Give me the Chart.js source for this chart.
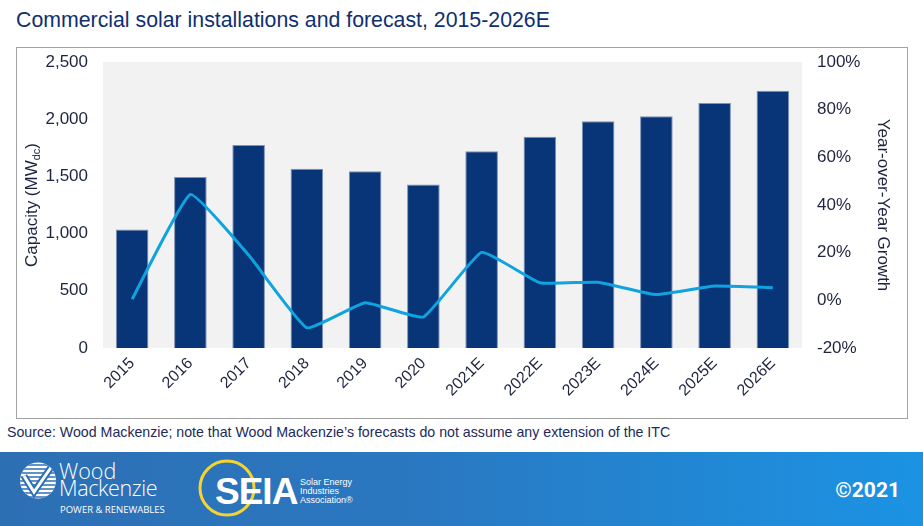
<!DOCTYPE html>
<html>
<head>
<meta charset="utf-8">
<script src="https://cdn.jsdelivr.net/npm/chart.js@4/dist/chart.umd.min.js"></script>
<style>
  html, body { margin: 0; padding: 0; background: #fff; }
  body { width: 923px; height: 526px; position: relative; overflow: hidden; font-family: 'Liberation Sans', Arial, sans-serif; }
  #title { position: absolute; left: 16px; top: 10px; font-size: 21.3px; line-height: 21px; color: #0f2f70; white-space: nowrap; }
  #frame { position: absolute; left: 16px; top: 47px; width: 892px; height: 372px; box-sizing: border-box; border: 1px solid #a3a3a3; }
  #wrap { position: absolute; left: 17px; top: 48px; width: 890px; height: 370px; }
  #source { position: absolute; left: 7px; top: 425px; font-size: 14.2px; line-height: 14px; color: #1c2a5c; white-space: nowrap; }
  #banner { position: absolute; left: 0; top: 452px; width: 923px; height: 74px; background: linear-gradient(to right, #2d6fb3 0%, #2a78c1 45%, #1b93e3 100%); }
  #copy { position: absolute; right: 23px; top: 478px; font-family: Roboto, 'Liberation Sans', sans-serif; font-weight: 700; font-size: 21px; color: #fff; }
  .wm { position: absolute; color: #fff; font-family: 'Open Sans', 'Liberation Sans', sans-serif; font-weight: 300; white-space: nowrap; }
  .seia-small { position: absolute; color: #fff; font-family: 'Liberation Sans', Arial, sans-serif; font-size: 9px; line-height: 9px; white-space: nowrap; }
</style>
</head>
<body>
<div id="title">Commercial solar installations and forecast, 2015-2026E</div>
<div id="frame"></div>
<div id="wrap"><canvas id="c" width="890" height="370"></canvas></div>
<div id="source">Source: Wood Mackenzie; note that Wood Mackenzie’s forecasts do not assume any extension of the ITC</div>
<div id="banner"></div>
<svg style="position:absolute;left:0;top:452px" width="360" height="74">
  <defs>
    <clipPath id="wmclip"><circle cx="38" cy="28.5" r="18"/></clipPath>
  </defs>
  <g clip-path="url(#wmclip)">
    <rect x="18" y="8" width="40" height="42" fill="#ffffff"/>
    <g stroke="#2d6fb3" stroke-width="1.3">
      <line x1="18" y1="13" x2="58" y2="13"/>
      <line x1="18" y1="17" x2="58" y2="17"/>
      <line x1="18" y1="21" x2="58" y2="21"/>
      <line x1="18" y1="25" x2="58" y2="25"/>
      <line x1="18" y1="29" x2="58" y2="29"/>
      <line x1="18" y1="33" x2="58" y2="33"/>
      <line x1="18" y1="37" x2="58" y2="37"/>
      <line x1="18" y1="41" x2="58" y2="41"/>
      <line x1="18" y1="45" x2="58" y2="45"/>
    </g>
    <path d="M24 24 L34 40 L52 14" fill="none" stroke="#2d6fb3" stroke-width="7"/>
    <path d="M24 24 L34 40 L52 14" fill="none" stroke="#ffffff" stroke-width="3"/>
  </g>
  <circle cx="227" cy="36" r="27" fill="none" stroke="#f5d430" stroke-width="3"/>
  <path d="M214 12 A26 26 0 0 0 236 61 A22 22 0 0 1 214 12 Z" fill="#f5d430"/>
</svg>
<div class="wm" style="left:59px;top:460px;font-size:21.5px;line-height:22px;">Wood</div>
<div class="wm" style="left:59px;top:477px;font-size:21.5px;line-height:22px;letter-spacing:-0.4px;">Mackenzie</div>
<div class="wm" style="left:60px;top:505px;font-size:9.5px;line-height:10px;font-weight:400;">POWER &amp; RENEWABLES</div>
<div style="position:absolute;left:215px;top:473px;font-family:'Liberation Sans',Arial,sans-serif;font-weight:700;font-size:37px;line-height:37px;color:#fff;letter-spacing:-1px;">SEIA</div>
<div class="seia-small" style="left:300px;top:478px;">Solar Energy</div>
<div class="seia-small" style="left:300px;top:487px;">Industries</div>
<div class="seia-small" style="left:300px;top:496px;">Association®</div>
<div id="copy">©2021</div>

<script>
const categories = ['2015','2016','2017','2018','2019','2020','2021E','2022E','2023E','2024E','2025E','2026E'];
const capacityMWdc = [1035, 1495, 1774, 1567, 1544, 1430, 1719, 1847, 1981, 2025, 2142, 2249];
const yoyGrowthPct = [0.5, 44.4, 19.0, -11.5, -1.0, -7.0, 20.1, 7.4, 7.6, 2.4, 6.0, 5.3];
const leftTicks = [0, 500, 1000, 1500, 2000, 2500];
const rightTicks = [-20, 0, 20, 40, 60, 80, 100];

const FONT = "'Liberation Sans', Arial, sans-serif";
const TXT = '#1d2440';

const plotBg = {
  id: 'plotBg',
  beforeDraw(chart) {
    const {ctx, chartArea: a} = chart;
    ctx.save();
    ctx.fillStyle = '#f2f2f2';
    ctx.fillRect(a.left, a.top, a.right - a.left, a.bottom - a.top);
    ctx.restore();
  }
};

const axisTitles = {
  id: 'axisTitles',
  afterDraw(chart) {
    const {ctx, chartArea: a} = chart;
    const cy = (a.top + a.bottom) / 2;
    ctx.save();
    ctx.fillStyle = TXT;
    ctx.textBaseline = 'middle';
    ctx.translate(15, cy);
    ctx.rotate(-Math.PI / 2);
    const big = '17px ' + FONT, small = '11px ' + FONT;
    ctx.font = big;
    const p1 = 'Capacity (MW', p3 = ')';
    const w1 = ctx.measureText(p1).width, w3 = ctx.measureText(p3).width;
    ctx.font = small;
    const w2 = ctx.measureText('dc').width;
    let x = -(w1 + w2 + w3) / 2;
    ctx.font = big; ctx.textAlign = 'left';
    ctx.fillText(p1, x, 0); x += w1;
    ctx.font = small; ctx.fillText('dc', x, 5); x += w2;
    ctx.font = big; ctx.fillText(p3, x, 0);
    ctx.restore();
    ctx.save();
    ctx.fillStyle = TXT;
    ctx.font = '17px ' + FONT;
    ctx.textAlign = 'center';
    ctx.textBaseline = 'middle';
    ctx.translate(866, cy);
    ctx.rotate(Math.PI / 2);
    ctx.fillText('Year-over-Year Growth', 0, 0);
    ctx.restore();
  }
};

new Chart(document.getElementById('c'), {
  type: 'bar',
  data: {
    labels: categories,
    datasets: [
      {
        type: 'line',
        label: 'Year-over-Year Growth',
        data: yoyGrowthPct,
        yAxisID: 'y1',
        borderColor: '#0fa3df',
        borderWidth: 3,
        pointRadius: 0,
        tension: 0.12,
        order: 0
      },
      {
        type: 'bar',
        label: 'Capacity (MWdc)',
        data: capacityMWdc,
        yAxisID: 'y',
        backgroundColor: '#083577',
        borderColor: '#7e91b6',
        borderWidth: 1,
        barPercentage: 0.56,
        categoryPercentage: 1.0,
        order: 1
      }
    ]
  },
  options: {
    responsive: false,
    animation: false,
    devicePixelRatio: 1,
    layout: { padding: { top: 14, left: 0, right: 0, bottom: 0 } },
    plugins: { legend: { display: false }, tooltip: { enabled: false } },
    scales: {
      x: {
        offset: true,
        grid: { display: false, drawTicks: false },
        border: { display: false },
        ticks: {
          color: TXT,
          font: { family: FONT, size: 16 },
          maxRotation: 45,
          minRotation: 45,
          padding: 6,
          autoSkip: false
        },
        afterFit(s) { s.height = 70; s.paddingLeft = 0; s.paddingRight = 0; }
      },
      y: {
        position: 'left',
        min: 0,
        max: 2500,
        grid: { display: false, drawTicks: false },
        border: { display: false },
        afterBuildTicks(s) { s.ticks = leftTicks.map(v => ({ value: v })); },
        ticks: {
          color: TXT,
          font: { family: FONT, size: 17 },
          padding: 15,
          callback: v => v.toLocaleString('en-US')
        },
        afterFit(s) { s.width = 86; s.paddingTop = 0; s.paddingBottom = 0; }
      },
      y1: {
        position: 'right',
        min: -20,
        max: 100,
        grid: { display: false, drawTicks: false },
        border: { display: false },
        afterBuildTicks(s) { s.ticks = rightTicks.map(v => ({ value: v })); },
        ticks: {
          color: TXT,
          font: { family: FONT, size: 17 },
          padding: 15,
          callback: v => v + '%'
        },
        afterFit(s) { s.width = 105; s.paddingTop = 0; s.paddingBottom = 0; }
      }
    }
  },
  plugins: [plotBg, axisTitles]
});
</script>
</body>
</html>
